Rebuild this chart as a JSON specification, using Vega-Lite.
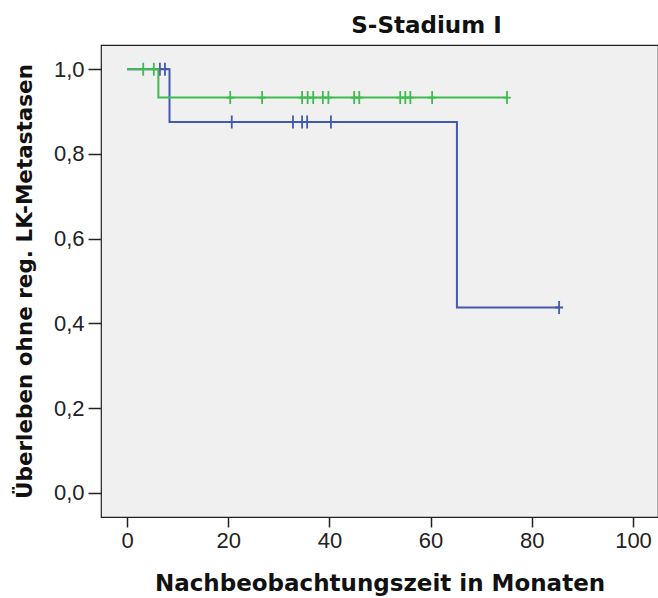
{
  "$schema": "https://vega.github.io/schema/vega-lite/v6.json",
  "autosize": {"type": "none"},
  "width": 557,
  "height": 472,
  "padding": {"left": 101, "top": 45, "right": 0, "bottom": 81},
  "background": "white",
  "title": {
    "text": "S-Stadium I",
    "font": "DejaVu Sans",
    "fontSize": 23,
    "fontWeight": "bold",
    "color": "#111111",
    "anchor": "middle",
    "dx": 47,
    "offset": 7
  },
  "config": {
    "view": {"fill": "#f0f0f0", "stroke": "#222222", "strokeWidth": 1.2},
    "axis": {
      "grid": false,
      "domain": false,
      "tickColor": "#222222",
      "tickWidth": 1.5,
      "labelFont": "Liberation Sans",
      "labelFontSize": 22,
      "labelColor": "#222222",
      "titleFont": "DejaVu Sans",
      "titleFontWeight": "bold",
      "titleColor": "#111111"
    }
  },
  "datasets": {
    "lines": [
      {"group": "blue", "t": 0, "s": 1.0},
      {"group": "blue", "t": 8.4, "s": 0.875},
      {"group": "blue", "t": 65.2, "s": 0.4375},
      {"group": "blue", "t": 85.4, "s": 0.4375},
      {"group": "green", "t": 0, "s": 1.0},
      {"group": "green", "t": 6.2, "s": 0.933},
      {"group": "green", "t": 75.1, "s": 0.933}
    ],
    "censor": [
      {"group": "blue", "t": 6.5, "s": 1.0},
      {"group": "blue", "t": 7.5, "s": 1.0},
      {"group": "blue", "t": 20.7, "s": 0.875},
      {"group": "blue", "t": 32.8, "s": 0.875},
      {"group": "blue", "t": 34.6, "s": 0.875},
      {"group": "blue", "t": 35.6, "s": 0.875},
      {"group": "blue", "t": 40.3, "s": 0.875},
      {"group": "blue", "t": 85.4, "s": 0.4375},
      {"group": "green", "t": 3.2, "s": 1.0},
      {"group": "green", "t": 5.3, "s": 1.0},
      {"group": "green", "t": 20.4, "s": 0.933},
      {"group": "green", "t": 26.7, "s": 0.933},
      {"group": "green", "t": 34.6, "s": 0.933},
      {"group": "green", "t": 35.7, "s": 0.933},
      {"group": "green", "t": 36.8, "s": 0.933},
      {"group": "green", "t": 38.7, "s": 0.933},
      {"group": "green", "t": 39.8, "s": 0.933},
      {"group": "green", "t": 44.9, "s": 0.933},
      {"group": "green", "t": 45.9, "s": 0.933},
      {"group": "green", "t": 54.0, "s": 0.933},
      {"group": "green", "t": 55.0, "s": 0.933},
      {"group": "green", "t": 56.0, "s": 0.933},
      {"group": "green", "t": 60.3, "s": 0.933},
      {"group": "green", "t": 75.1, "s": 0.933}
    ]
  },
  "encoding": {
    "x": {
      "field": "t",
      "type": "quantitative",
      "scale": {"domain": [-5.14, 104.94], "nice": false, "zero": false},
      "axis": {
        "values": [0, 20, 40, 60, 80, 100],
        "title": "Nachbeobachtungszeit in Monaten",
        "titleFontSize": 23,
        "tickSize": 10,
        "labelPadding": 3,
        "titlePadding": 21
      }
    },
    "y": {
      "field": "s",
      "type": "quantitative",
      "scale": {"domain": [-0.057, 1.057], "nice": false, "zero": false},
      "axis": {
        "values": [0, 0.2, 0.4, 0.6, 0.8, 1.0],
        "labelExpr": "replace(format(datum.value, '.1f'), '.', ',')",
        "title": "Überleben ohne reg. LK-Metastasen",
        "titleFontSize": 21.5,
        "tickSize": 13,
        "labelPadding": 4,
        "titlePadding": 17
      }
    },
    "color": {
      "field": "group",
      "type": "nominal",
      "scale": {"domain": ["blue", "green"], "range": ["#4358b0", "#3fbb4f"]},
      "legend": null
    }
  },
  "layer": [
    {
      "data": {"name": "lines"},
      "transform": [{"filter": "datum.group === 'blue'"}],
      "mark": {"type": "line", "interpolate": "step-after", "strokeWidth": 2}
    },
    {
      "data": {"name": "censor"},
      "transform": [{"filter": "datum.group === 'blue'"}],
      "mark": {"type": "point", "shape": "M0,-1L0,1M-0.6,0L0.6,0", "filled": false, "size": 169, "strokeWidth": 1.8, "opacity": 1}
    },
    {
      "data": {"name": "lines"},
      "transform": [{"filter": "datum.group === 'green'"}],
      "mark": {"type": "line", "interpolate": "step-after", "strokeWidth": 2}
    },
    {
      "data": {"name": "censor"},
      "transform": [{"filter": "datum.group === 'green'"}],
      "mark": {"type": "point", "shape": "M0,-1L0,1M-0.6,0L0.6,0", "filled": false, "size": 169, "strokeWidth": 1.8, "opacity": 1}
    }
  ]
}
